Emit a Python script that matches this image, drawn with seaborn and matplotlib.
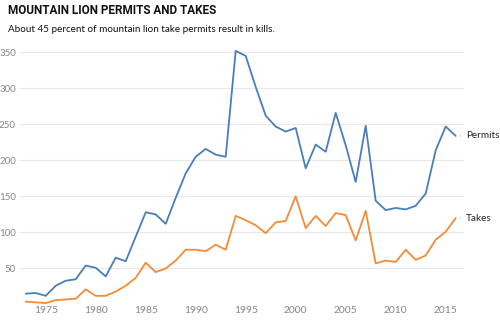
import numpy as np
import pandas as pd
import matplotlib
matplotlib.use("Agg")
import matplotlib.pyplot as plt
import seaborn as sns

years = list(range(1973, 2017))
permits = [15, 16, 12, 26, 33, 35, 54, 51, 39, 65, 60, 94, 128, 125, 112, 148,
           182, 205, 216, 208, 205, 352, 345, 302, 262, 247, 240, 245, 189, 222,
           212, 266, 221, 170, 248, 144, 131, 134, 132, 137, 154, 214, 247, 234]
takes = [4, 3, 2, 6, 7, 8, 21, 12, 12, 18, 26, 37, 58, 45, 50, 61,
         76, 76, 74, 83, 76, 123, 117, 110, 99, 114, 116, 150, 106, 123,
         109, 127, 124, 89, 130, 57, 61, 59, 76, 62, 68, 90, 101, 120]
series_names = ["Permits", "Takes"]
y_ticks = [50, 100, 150, 200, 250, 300, 350]
x_ticks = [1975, 1980, 1985, 1990, 1995, 2000, 2005, 2010, 2015]

title = "MOUNTAIN LION PERMITS AND TAKES"
subtitle = "About 45 percent of mountain lion take permits result in kills."

df = pd.DataFrame({
    "year": years * 2,
    "value": permits + takes,
    "series": [series_names[0]] * len(years) + [series_names[1]] * len(years),
})

sns.set_theme(style="white")
plt.rcParams["font.family"] = ["Lato", "DejaVu Sans"]

colors = {"Permits": "#4a7eb8", "Takes": "#f28c3a"}
leader = {"Permits": "#a9c3e0", "Takes": "#f8c59b"}

fig = plt.figure(figsize=(5.0, 3.21), dpi=100)
ax = fig.add_axes([0.04, 0.0514, 0.888, 0.808])

sns.lineplot(data=df, x="year", y="value", hue="series", palette=colors,
             linewidth=1.3, ax=ax, legend=False)

ax.set_xlim(1972.43, 2016.83)
ax.set_ylim(0, 360)
ax.set_yticks(y_ticks)
ax.set_xticks(x_ticks)
ax.yaxis.grid(True, color="#e8e8e8", linewidth=0.9)
ax.xaxis.grid(False)
for s in ax.spines.values():
    s.set_visible(False)
ax.tick_params(axis="both", length=0, colors="#858585")
ax.tick_params(axis="x", pad=1, labelsize=7.4)
ax.tick_params(axis="y", pad=3, labelsize=7)
ax.set_xlabel("")
ax.set_ylabel("")

for name, vals in [("Permits", permits), ("Takes", takes)]:
    ax.annotate("", xy=(years[-1] + 0.45, vals[-1]), xytext=(years[-1] + 0.75, vals[-1]),
                arrowprops=dict(arrowstyle="-", color=leader[name], lw=1.0),
                annotation_clip=False)
    ax.annotate(name, xy=(years[-1], vals[-1]), xytext=(7.5, 0),
                textcoords="offset points", va="center", ha="left",
                fontsize=7.2, color="#222222", annotation_clip=False)

fig.text(8 / 500, 1 - 10 / 321, title, fontsize=8.5, fontweight="bold",
         family=["Roboto", "DejaVu Sans"], color="#111111", va="center", ha="left")
fig.text(8 / 500, 1 - 30 / 321, subtitle, fontsize=7.1, color="#111111",
         va="center", ha="left")

fig.savefig("out.png", dpi=100, facecolor="white")
